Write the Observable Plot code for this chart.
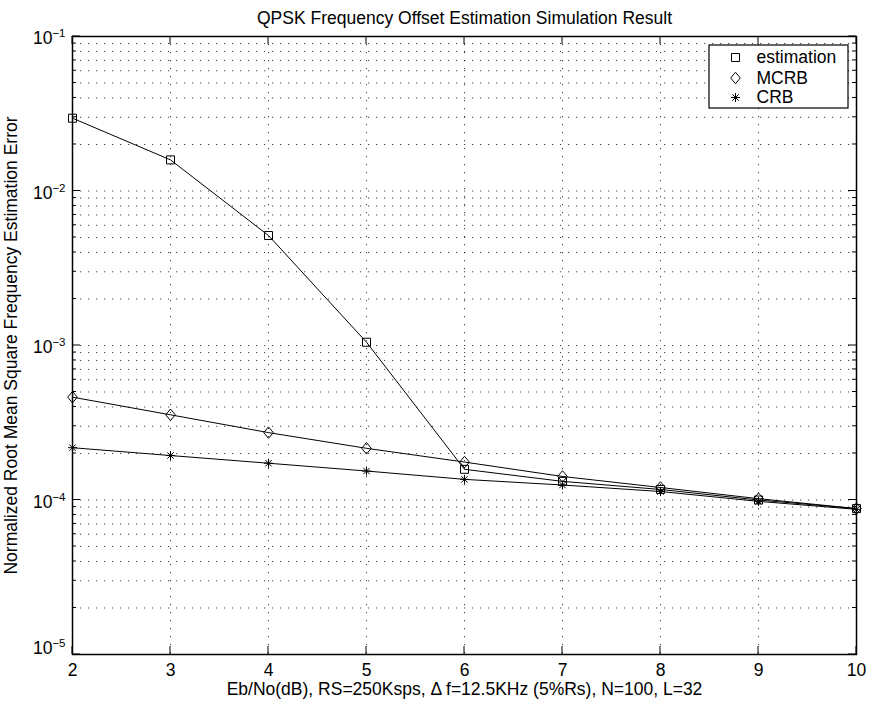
<!DOCTYPE html>
<html><head><meta charset="utf-8">
<script src="https://cdn.jsdelivr.net/npm/d3@7"></script>
<script src="https://cdn.jsdelivr.net/npm/@observablehq/plot@0.6"></script>
<style>
html,body{margin:0;padding:0;background:#fff;overflow:hidden}
#chart svg{display:block}
</style>
</head><body><div id="chart"></div>
<script>
// ---- data ----
const ebno = [2, 3, 4, 5, 6, 7, 8, 9, 10];
const estimation = [2.96e-2, 1.59e-2, 5.15e-3, 1.05e-3, 1.58e-4, 1.32e-4, 1.17e-4, 1.0e-4, 8.8e-5];
const mcrb = [4.63e-4, 3.56e-4, 2.73e-4, 2.16e-4, 1.76e-4, 1.42e-4, 1.205e-4, 1.02e-4, 8.8e-5];
const crb = [2.18e-4, 1.94e-4, 1.73e-4, 1.54e-4, 1.36e-4, 1.25e-4, 1.135e-4, 0.98e-4, 8.7e-5];
const seriesNames = ["estimation", "MCRB", "CRB"];
const xTicks = [2, 3, 4, 5, 6, 7, 8, 9, 10];
const yMajor = [1e-5, 1e-4, 1e-3, 1e-2, 1e-1];
const yMinorMult = [2, 3, 4, 5, 6, 7, 8, 9];
const titleText = "QPSK Frequency Offset Estimation Simulation Result";
const yLabelText = "Normalized Root Mean Square Frequency Estimation Error";
const xLabelParts = ["Eb/No(dB), RS=250Ksps, \u0394 f=12.5KHz (5%R", "s", "), N=100, L=32"];

// ---- derived tables ----
const yMinor = [];
for (const d of yMajor.slice(0, -1)) for (const m of yMinorMult) yMinor.push(+(d * m).toPrecision(3));
const yGrid = [...yMajor, ...yMinor];
const table = [];
[estimation, mcrb, crb].forEach((arr, s) => ebno.forEach((x, i) => table.push({series: seriesNames[s], x, y: arr[i]})));
const bySeries = name => table.filter(d => d.series === name);

// ---- custom MATLAB-like symbols ----
const rad = size => Math.sqrt(size / Math.PI);
const sqSym = {draw(c, size) { const r = rad(size); c.moveTo(-r, -r); c.lineTo(r, -r); c.lineTo(r, r); c.lineTo(-r, r); c.closePath(); }};
const diaSym = {draw(c, size) { const r = rad(size), h = r * 1.2; c.moveTo(0, -h); c.lineTo(r, 0); c.lineTo(0, h); c.lineTo(-r, 0); c.closePath(); }};
const astSym = {draw(c, size) { const r = rad(size), d = r * Math.SQRT1_2;
  c.moveTo(-r, 0); c.lineTo(r, 0); c.moveTo(0, -r); c.lineTo(0, r);
  c.moveTo(-d, -d); c.lineTo(d, d); c.moveTo(-d, d); c.lineTo(d, -d); }};
const symbols = [sqSym, diaSym, astSym];
const symR = [4, 4.8, 4.5];

const FS = 17.5;

// inward ticks on all four sides
function frameTicks(index, scales, values, dim) {
  const {x, y} = scales;
  const L = dim.marginLeft, R = dim.width - dim.marginRight, T = dim.marginTop, B = dim.height - dim.marginBottom;
  let p = "";
  for (const t of xTicks) { const px = x(t); p += `M${px},${B}v-8M${px},${T}v8`; }
  for (const t of yMajor) { const py = y(t); p += `M${L},${py}h8M${R},${py}h-8`; }
  for (const t of yMinor) { const py = y(t); p += `M${L},${py}h4M${R},${py}h-4`; }
  const g = d3.create("svg:g");
  g.append("path").attr("d", p).attr("stroke", "black").attr("stroke-width", 1).attr("fill", "none");
  return g.node();
}
function legendBox(index, scales, values, dim) {
  const R = dim.width - dim.marginRight, T = dim.marginTop;
  const g = d3.create("svg:g");
  g.append("rect").attr("x", R - 147).attr("y", T + 9).attr("width", 139).attr("height", 63)
    .attr("fill", "white").attr("stroke", "black").attr("stroke-width", 1.2);
  return g.node();
}

const legendRowsDy = [21, 41.5, 61];

const marks = [
  Plot.ruleY(yGrid, {stroke: "black", strokeOpacity: 0.75, strokeWidth: 1, strokeDasharray: "1.2,6.8"}),
  Plot.ruleX(xTicks, {stroke: "black", strokeOpacity: 0.75, strokeWidth: 1, strokeDasharray: "1.2,6.8"}),
  Plot.frame({stroke: "black", strokeWidth: 1.5}),
  frameTicks,
  Plot.axisX({ticks: xTicks, tickSize: 0, tickPadding: 9.5, tickFormat: d => String(d), label: null, fontSize: FS}),
  Plot.axisY({ticks: yMajor, tickSize: 0, tickPadding: 7, tickFormat: d => `10|${Math.round(Math.log10(d))}`, label: null, fontSize: FS}),
  Plot.line(table, {x: "x", y: "y", z: "series", stroke: "black", strokeWidth: 1}),
  ...seriesNames.map((name, s) => Plot.dot(bySeries(name), {x: "x", y: "y", symbol: symbols[s], r: symR[s], stroke: "black", fill: "none", strokeWidth: 1})),
  legendBox,
  ...seriesNames.map((name, s) => Plot.dot([name], {frameAnchor: "top-right", dx: -121, dy: legendRowsDy[s], symbol: symbols[s], r: symR[s], stroke: "black", fill: "none", strokeWidth: 1})),
  ...seriesNames.map((name, s) => Plot.text([name], {frameAnchor: "top-right", dx: -100, dy: legendRowsDy[s], text: d => d, textAnchor: "start", lineAnchor: "middle", fontSize: FS, fill: "black"})),
  Plot.text([titleText], {frameAnchor: "top", dy: -18.6, text: d => d, textAnchor: "middle", lineAnchor: "middle", fontSize: FS, fill: "black"}),
  Plot.text([yLabelText], {frameAnchor: "left", dx: -61.6, rotate: -90, text: d => d, textAnchor: "middle", lineAnchor: "middle", fontSize: FS, fill: "black"}),
  Plot.text([xLabelParts.join("")], {frameAnchor: "bottom", dy: 34.4, text: d => d, textAnchor: "middle", lineAnchor: "middle", fontSize: FS, fill: "black", ariaLabel: "xlabel"})
];

const svg = Plot.plot({
  width: 870, height: 710,
  marginLeft: 72, marginRight: 14, marginTop: 36, marginBottom: 56,
  x: {type: "linear", domain: [2, 10]},
  y: {type: "log", domain: [1e-5, 1e-1]},
  style: {fontFamily: "'Liberation Sans', Arial, Helvetica, sans-serif", fontSize: FS + "px", background: "white", color: "black"},
  marks
});

// y tick labels as 10 with superscript exponents
d3.select(svg).selectAll("text").each(function() {
  const t = this.textContent;
  if (!/^10\|-?\d+$/.test(t)) return;
  const exp = +t.split("|")[1];
  const sel = d3.select(this).text("");
  const shift = exp === -5 ? -6 : 2;
  sel.append("tspan").attr("dy", shift).text("10");
  sel.append("tspan").attr("dy", -7).attr("font-size", 11.5).text(exp < 0 ? "\u2212" + Math.abs(exp) : String(exp));
});
// x label with subscript
d3.select(svg).selectAll('g[aria-label="xlabel"] text').each(function() {
  const sel = d3.select(this).text("");
  sel.append("tspan").text(xLabelParts[0]);
  sel.append("tspan").attr("dy", 4).attr("font-size", 12).text(xLabelParts[1]);
  sel.append("tspan").attr("dy", -4).text(xLabelParts[2]);
});

document.getElementById("chart").appendChild(svg);
</script>
</body></html>
